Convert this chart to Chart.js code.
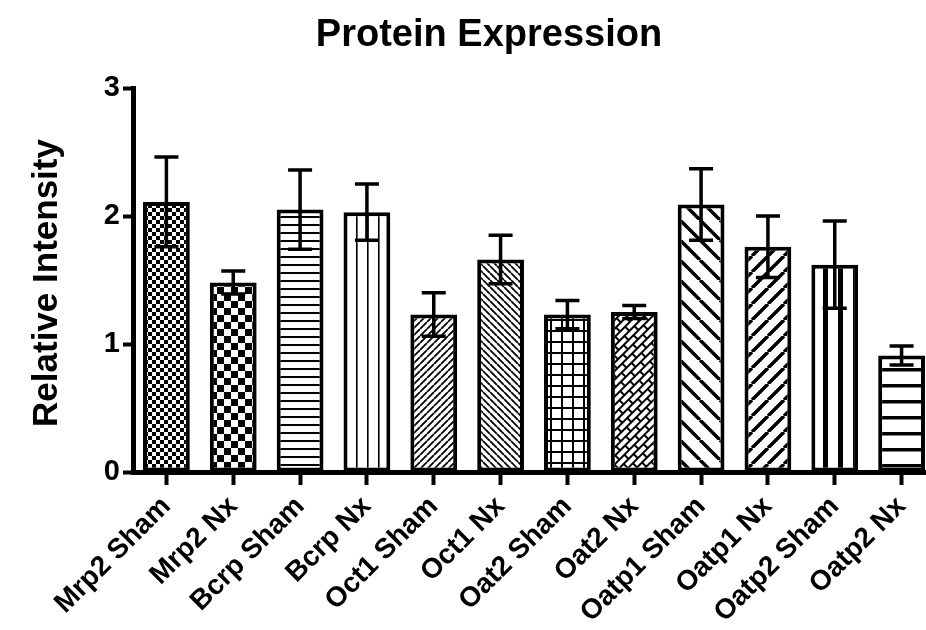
<!DOCTYPE html>
<html>
<head>
<meta charset="utf-8">
<script src="https://cdn.jsdelivr.net/npm/chart.js@4"></script>
<style>
  html, body { margin: 0; padding: 0; background: #fff; overflow: hidden; }
  #wrap { width: 945px; height: 630px; }
</style>
</head>
<body>
<div id="wrap"><canvas id="chart" width="945" height="630"></canvas></div>
<script>
// ---- data ----
const CATEGORIES = ['Mrp2 Sham', 'Mrp2 Nx', 'Bcrp Sham', 'Bcrp Nx', 'Oct1 Sham', 'Oct1 Nx',
                    'Oat2 Sham', 'Oat2 Nx', 'Oatp1 Sham', 'Oatp1 Nx', 'Oatp2 Sham', 'Oatp2 Nx'];
const MEANS = [2.11, 1.48, 2.05, 2.03, 1.23, 1.66, 1.23, 1.25, 2.09, 1.76, 1.62, 0.91];
const SEMS  = [0.35, 0.09, 0.31, 0.22, 0.17, 0.19, 0.11, 0.05, 0.28, 0.24, 0.34, 0.075];
const Y_TICKS = [0, 1, 2, 3];

const TITLE = 'Protein Expression';
const Y_TITLE = 'Relative Intensity';
const FONT = "'Liberation Sans', Arial, sans-serif";

const canvas = document.getElementById('chart');
const ctx = canvas.getContext('2d');

// -------------------------------------------------------
// Fill patterns (black on white)
// -------------------------------------------------------
function tile(w, h, draw) {
    const c = document.createElement('canvas');
    c.width = w; c.height = h;
    const g = c.getContext('2d');
    g.fillStyle = '#fff';
    g.fillRect(0, 0, w, h);
    g.fillStyle = '#000';
    g.strokeStyle = '#000';
    draw(g, w, h);
    return ctx.createPattern(c, 'repeat');
}
const checker = n => tile(2 * n, 2 * n, g => { g.fillRect(0, 0, n, n); g.fillRect(n, n, n, n); });
const hLines = (s, w, off) => tile(s, s, g => { g.fillRect(0, off, s, w); g.fillRect(0, off - s, s, w); });
const vLines = (s, w, off) => tile(s, s, g => { g.fillRect(off, 0, w, s); g.fillRect(off - s, 0, w, s); });
const grid = (s, w) => tile(s, s, g => { g.fillRect(0, 0, s, w); g.fillRect(0, 0, w, s); });
const diag = (s, w, dir) => tile(s, s, g => {
    g.lineWidth = w;
    g.beginPath();
    for (let k = -1; k <= 1; k++) {
        if (dir === '/') { g.moveTo(k * s, s); g.lineTo(k * s + s, 0); }
        else { g.moveTo(k * s, 0); g.lineTo(k * s + s, s); }
    }
    g.stroke();
});
function brick() {
    const p = tile(14, 12, g => {
        g.fillRect(0, 0, 14, 2);
        g.fillRect(0, 6, 14, 2);
        g.fillRect(0, 0, 2, 6);
        g.fillRect(7, 6, 2, 6);
    });
    p.setTransform(new DOMMatrix().rotate(-45));
    return p;
}

const PATTERNS = [
    checker(4),          // Mrp2 Sham
    checker(7),          // Mrp2 Nx
    hLines(8, 2, 0),     // Bcrp Sham
    vLines(11, 1.6, 4),  // Bcrp Nx
    diag(7, 1.8, '/'),   // Oct1 Sham
    diag(7, 1.8, '\\'),  // Oct1 Nx
    grid(11, 2),         // Oat2 Sham
    brick(),             // Oat2 Nx
    diag(20, 3.5, '\\'), // Oatp1 Sham
    diag(16, 3.5, '/'),  // Oatp1 Nx
    vLines(15, 5, 13),   // Oatp2 Sham
    hLines(16, 3.5, 0)   // Oatp2 Nx
];

// -------------------------------------------------------
// Error bars (mean +/- SEM) and titles
// -------------------------------------------------------
const errorBars = {
    id: 'errorBars',
    afterDatasetsDraw(chart) {
        const c = chart.ctx;
        const y = chart.scales.y;
        const meta = chart.getDatasetMeta(0);
        c.save();
        c.strokeStyle = '#000';
        c.lineWidth = 3.5;
        c.lineCap = 'butt';
        meta.data.forEach((bar, i) => {
            const x = bar.x;
            const hi = y.getPixelForValue(MEANS[i] + SEMS[i]);
            const lo = y.getPixelForValue(MEANS[i] - SEMS[i]);
            c.beginPath();
            c.moveTo(x, hi); c.lineTo(x, lo);
            c.moveTo(x - 12, hi); c.lineTo(x + 12, hi);
            c.moveTo(x - 12, lo); c.lineTo(x + 12, lo);
            c.stroke();
        });
        c.restore();
    }
};

const titles = {
    id: 'titles',
    afterDraw(chart) {
        const c = chart.ctx;
        c.save();
        c.fillStyle = '#000';
        c.font = `bold 38px ${FONT}`;
        c.textAlign = 'center';
        c.textBaseline = 'alphabetic';
        c.fillText(TITLE, 489, 46);
        c.translate(57, 283);
        c.rotate(-Math.PI / 2);
        c.font = `bold 35px ${FONT}`;
        c.fillText(Y_TITLE, 0, 0);
        c.restore();
    }
};

new Chart(ctx, {
    type: 'bar',
    data: {
        labels: CATEGORIES,
        datasets: [{
            data: MEANS,
            backgroundColor: PATTERNS,
            borderColor: '#000',
            borderWidth: 4,
            borderSkipped: false,
            categoryPercentage: 1,
            barPercentage: 0.7
        }]
    },
    options: {
        responsive: false,
        animation: false,
        layout: { padding: { left: 0, right: 10, top: 88, bottom: 0 } },
        plugins: { legend: { display: false }, tooltip: { enabled: false }, title: { display: false } },
        scales: {
            x: {
                afterFit: s => { s.height = 630 - 472; },
                grid: { drawOnChartArea: false, offset: false, tickLength: 13, tickWidth: 4, tickColor: '#000' },
                border: { display: true, color: '#000', width: 5 },
                ticks: {
                    color: '#000',
                    font: { family: FONT, size: 28, weight: 'bold' },
                    minRotation: 45, maxRotation: 45,
                    autoSkip: false,
                    padding: 5
                }
            },
            y: {
                min: 0, max: 3,
                afterFit: s => { s.width = 133; },
                afterBuildTicks: s => { s.ticks = Y_TICKS.map(v => ({ value: v })); },
                grid: { drawOnChartArea: false, tickLength: 10, tickWidth: 4, tickColor: '#000' },
                border: { display: true, color: '#000', width: 5 },
                ticks: {
                    color: '#000',
                    font: { family: FONT, size: 29, weight: 'bold' },
                    padding: 3
                }
            }
        }
    },
    plugins: [errorBars, titles]
});
</script>
</body>
</html>
